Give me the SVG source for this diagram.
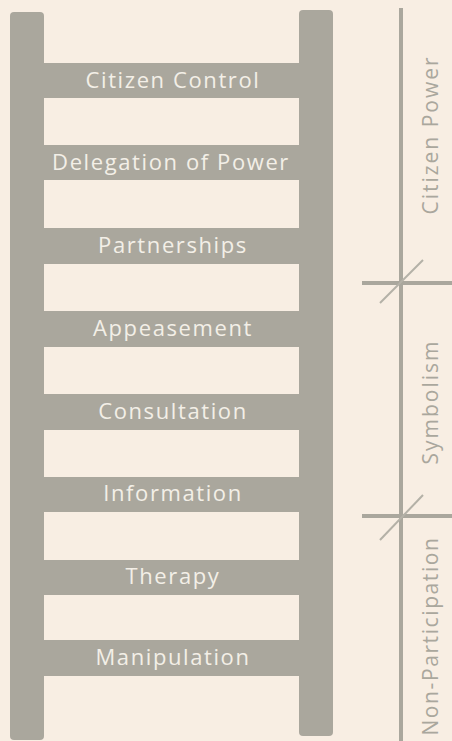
<svg xmlns="http://www.w3.org/2000/svg" width="452" height="741" viewBox="0 0 452 741">
  <style>
    .g{fill:#aaa79d}
    .rung-label{font-family:"Open Sans","DejaVu Sans",sans-serif;font-size:22px;fill:#f3efe7;text-anchor:middle;letter-spacing:1.6px}
    .side{font-family:"Open Sans","DejaVu Sans",sans-serif;font-size:21px;fill:#aaa79d;letter-spacing:2px;text-anchor:middle}
    .scale{stroke:#aaa79d;stroke-width:4;fill:none}
    .tick{stroke:#b4b1a7;stroke-width:2;fill:none}
  </style>
  <rect width="452" height="741" fill="#f8eee3"/>
  <g id="ladder">
    <rect id="left-rail" class="g" x="10" y="12" width="34" height="728" rx="4"/>
    <rect id="right-rail" class="g" x="299" y="10" width="34" height="726" rx="4"/>
  </g>
  <g id="rung-citizen-control"><rect class="g" x="43" y="63" width="257" height="35"/><text class="rung-label" x="173" y="88">Citizen Control</text></g>
  <g id="rung-delegation"><rect class="g" x="43" y="145" width="257" height="35"/><text class="rung-label" x="171" y="170">Delegation of Power</text></g>
  <g id="rung-partnerships"><rect class="g" x="43" y="228" width="257" height="36"/><text class="rung-label" x="173" y="253">Partnerships</text></g>
  <g id="rung-appeasement"><rect class="g" x="43" y="311" width="257" height="36"/><text class="rung-label" x="173" y="336">Appeasement</text></g>
  <g id="rung-consultation"><rect class="g" x="43" y="394" width="257" height="36"/><text class="rung-label" x="173" y="419">Consultation</text></g>
  <g id="rung-information"><rect class="g" x="43" y="477" width="257" height="35"/><text class="rung-label" x="173" y="501">Information</text></g>
  <g id="rung-therapy"><rect class="g" x="43" y="560" width="257" height="35"/><text class="rung-label" x="173" y="584">Therapy</text></g>
  <g id="rung-manipulation"><rect class="g" x="43" y="640" width="257" height="36"/><text class="rung-label" x="173" y="665">Manipulation</text></g>
  <g id="connectors">
    <line class="scale" x1="401" y1="8" x2="401" y2="741" stroke-width="3"/>
    <line class="scale" x1="362" y1="283" x2="452" y2="283"/>
    <line class="tick" x1="380" y1="303" x2="423" y2="260"/>
    <line class="scale" x1="362" y1="516" x2="452" y2="516"/>
    <line class="tick" x1="380" y1="540" x2="423" y2="495"/>
  </g>
  <g id="label-citizen-power"><text class="side" transform="translate(438 135) rotate(-90)">Citizen Power</text></g>
  <g id="label-symbolism"><text class="side" transform="translate(438 402) rotate(-90)">Symbolism</text></g>
  <g id="label-non-participation"><text class="side" style="letter-spacing:1.6px" transform="translate(438 636) rotate(-90)">Non-Participation</text></g>
</svg>
